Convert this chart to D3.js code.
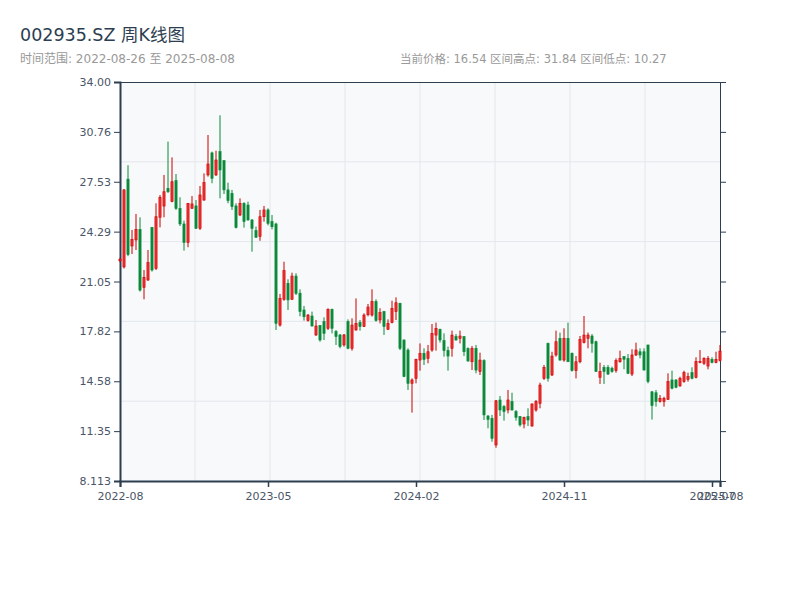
<!DOCTYPE html>
<html>
<head>
<meta charset="utf-8">
<script src="https://cdn.jsdelivr.net/npm/d3@7"></script>
<style>
  body { margin: 0; background: #fff; }
  svg { font-family: "DejaVu Sans", "Noto Sans CJK SC", sans-serif; }
</style>
</head>
<body>
<svg id="chart" width="800" height="600"></svg>
<script>
// weekly bars, last trading day of each week (holiday weeks dropped)
var dates = [
  "2022-08-26","2022-09-02","2022-09-09","2022-09-16","2022-09-23","2022-09-30","2022-10-14","2022-10-21","2022-10-28","2022-11-04",
  "2022-11-11","2022-11-18","2022-11-25","2022-12-02","2022-12-09","2022-12-16","2022-12-23","2022-12-30","2023-01-06","2023-01-13",
  "2023-01-20","2023-02-03","2023-02-10","2023-02-17","2023-02-24","2023-03-03","2023-03-10","2023-03-17","2023-03-24","2023-03-31",
  "2023-04-07","2023-04-14","2023-04-21","2023-04-28","2023-05-05","2023-05-12","2023-05-19","2023-05-26","2023-06-02","2023-06-09",
  "2023-06-16","2023-06-23","2023-06-30","2023-07-07","2023-07-14","2023-07-21","2023-07-28","2023-08-04","2023-08-11","2023-08-18",
  "2023-08-25","2023-09-01","2023-09-08","2023-09-15","2023-09-22","2023-09-28","2023-10-13","2023-10-20","2023-10-27","2023-11-03",
  "2023-11-10","2023-11-17","2023-11-24","2023-12-01","2023-12-08","2023-12-15","2023-12-22","2023-12-29","2024-01-05","2024-01-12",
  "2024-01-19","2024-01-26","2024-02-02","2024-02-08","2024-02-23","2024-03-01","2024-03-08","2024-03-15","2024-03-22","2024-03-29",
  "2024-04-03","2024-04-12","2024-04-19","2024-04-26","2024-04-30","2024-05-10","2024-05-17","2024-05-24","2024-05-31","2024-06-07",
  "2024-06-14","2024-06-21","2024-06-28","2024-07-05","2024-07-12","2024-07-19","2024-07-26","2024-08-02","2024-08-09","2024-08-16",
  "2024-08-23","2024-08-30","2024-09-06","2024-09-13","2024-09-20","2024-09-27","2024-09-30","2024-10-11","2024-10-18","2024-10-25",
  "2024-11-01","2024-11-08","2024-11-15","2024-11-22","2024-11-29","2024-12-06","2024-12-13","2024-12-20","2024-12-27","2025-01-03",
  "2025-01-10","2025-01-17","2025-01-24","2025-01-27","2025-02-07","2025-02-14","2025-02-21","2025-02-28","2025-03-07","2025-03-14",
  "2025-03-21","2025-03-28","2025-04-03","2025-04-11","2025-04-18","2025-04-25","2025-04-30","2025-05-09","2025-05-16","2025-05-23",
  "2025-05-30","2025-06-06","2025-06-13","2025-06-20","2025-06-27","2025-07-04","2025-07-11","2025-07-18","2025-07-25","2025-08-01",
  "2025-08-08"
];

var opens = [
  22.40,22.00,27.70,23.36,23.75,24.44,20.68,21.15,24.57,21.90,
  25.22,25.95,27.10,26.24,27.60,25.80,24.79,23.58,25.80,25.96,
  24.51,26.34,27.97,29.40,27.97,29.48,28.90,27.00,26.78,25.96,
  25.37,26.13,26.02,25.05,24.36,23.97,25.26,25.70,24.94,24.79,
  18.23,19.90,20.94,19.90,21.41,20.30,19.21,18.52,18.82,17.59,
  18.20,18.45,18.02,19.25,17.80,17.59,16.94,18.45,16.72,17.91,
  18.39,18.13,18.90,18.88,19.75,18.56,19.10,17.95,18.39,19.10,
  19.64,17.26,16.61,14.45,14.77,15.96,16.40,16.07,16.61,17.58,
  17.95,17.22,16.57,16.72,17.48,17.37,17.48,16.70,15.85,16.72,
  15.21,15.92,12.33,12.18,10.45,13.37,12.94,12.72,13.26,12.61,
  12.29,11.81,12.29,11.68,12.72,13.15,14.77,17.04,14.99,16.29,
  17.37,15.96,17.37,16.40,15.27,15.85,17.09,17.37,17.52,17.15,
  14.84,15.49,15.49,15.43,15.27,15.85,16.18,16.07,15.05,16.29,
  16.50,16.50,16.94,13.90,13.84,13.26,13.26,13.41,14.67,14.67,
  14.28,14.56,14.71,15.14,14.84,15.79,15.75,15.57,16.01,15.79,
  15.92
];
var highs = [
  22.60,27.05,28.60,24.40,25.44,25.22,21.80,23.10,24.60,26.13,
  26.67,27.97,30.13,29.11,28.03,26.52,25.00,26.15,26.60,26.34,
  27.25,28.07,30.56,29.48,29.54,31.84,28.90,27.47,27.00,26.13,
  26.45,26.20,26.24,25.10,24.62,25.70,25.96,25.80,25.37,24.87,
  20.25,22.34,21.20,21.63,21.59,20.55,19.47,18.95,19.10,18.56,
  18.23,18.73,19.32,19.30,17.91,17.65,17.65,18.60,18.67,19.96,
  18.56,18.99,19.60,20.55,19.90,19.32,19.15,18.60,19.81,20.03,
  19.68,17.30,16.72,14.77,16.05,17.04,16.72,16.94,18.30,18.39,
  18.00,17.69,16.83,17.87,17.65,17.87,17.50,16.78,16.87,16.94,
  16.44,16.01,12.40,12.40,13.37,13.63,13.04,14.02,13.84,12.72,
  12.33,12.29,12.83,13.15,13.37,14.49,15.64,17.09,16.50,17.87,
  17.74,18.02,18.39,16.45,16.22,17.52,18.82,17.74,17.65,17.22,
  15.79,15.64,15.64,15.53,16.07,16.57,16.22,16.35,16.66,17.09,
  16.72,16.72,16.94,13.95,14.02,13.69,13.58,15.10,15.27,14.71,
  14.88,15.27,15.14,15.49,16.14,16.61,16.14,16.22,16.14,16.50,
  16.94
];
var lows = [
  22.30,21.90,22.70,22.84,23.10,20.40,19.90,21.10,21.70,21.80,
  24.57,25.22,26.80,26.20,25.70,24.66,23.06,23.28,25.80,24.46,
  24.40,26.30,27.86,27.43,27.90,26.45,26.73,26.13,25.70,24.50,
  25.30,24.55,25.00,22.99,23.92,23.70,24.94,24.70,24.44,17.91,
  18.13,19.81,19.21,19.86,20.18,18.80,18.52,18.45,18.13,17.52,
  17.15,17.26,17.91,17.69,16.94,16.72,16.83,16.66,16.57,17.87,
  17.87,18.10,18.80,18.78,18.45,18.34,17.59,17.91,18.34,18.56,
  16.61,14.85,14.02,12.55,14.45,15.27,15.64,15.75,16.50,16.57,
  17.09,16.18,15.27,16.18,17.22,17.04,16.22,15.85,15.31,15.10,
  14.99,12.07,11.53,10.66,10.27,12.33,12.03,12.50,12.68,12.03,
  11.64,11.53,11.68,11.64,12.61,12.83,14.67,14.56,14.92,16.18,
  15.92,15.85,15.85,15.21,14.77,15.75,17.04,16.72,16.44,15.20,
  14.41,14.41,14.99,15.14,15.14,15.79,15.36,15.05,14.92,16.22,
  16.07,15.30,14.45,12.10,12.94,13.20,12.94,13.37,14.06,14.13,
  14.23,14.49,14.56,14.71,14.77,15.75,15.64,15.36,15.75,15.75,
  15.86
];
var closes = [
  22.50,27.00,22.80,23.79,24.44,20.50,21.33,22.28,21.80,25.26,
  26.52,26.88,26.88,27.53,25.80,24.79,23.58,26.13,26.09,24.51,
  26.67,27.47,28.68,27.75,28.94,28.29,27.00,26.30,25.91,24.55,
  26.13,24.94,25.05,24.50,23.92,25.26,25.70,24.83,24.61,18.34,
  19.96,21.76,19.86,21.41,20.29,19.10,18.77,18.88,18.17,18.17,
  17.26,17.69,19.25,18.02,17.48,16.83,17.59,16.72,18.23,18.34,
  18.13,18.88,19.40,19.75,18.52,19.04,18.13,18.34,19.32,19.68,
  16.72,14.88,14.45,14.67,16.00,16.40,16.00,16.50,17.69,18.02,
  17.26,16.57,16.22,17.58,17.26,17.52,16.50,15.90,16.72,15.31,
  15.96,12.40,12.10,10.88,13.32,12.72,12.61,13.37,12.72,12.24,
  11.75,12.24,12.07,13.11,13.26,14.34,15.49,14.77,16.22,17.15,
  15.96,17.37,15.85,15.27,15.85,17.30,17.58,17.58,17.04,15.21,
  15.21,15.21,15.05,15.21,15.92,16.07,16.01,15.10,16.29,16.61,
  16.29,15.31,14.56,13.00,13.26,13.48,13.48,14.56,14.13,14.19,
  14.77,15.14,14.88,14.77,15.86,15.86,16.07,16.07,15.79,16.01,
  16.54
];

var yMin = 8.113, yMax = 34.00;
var yTickLabels = ["8.113", "11.35", "14.58", "17.82", "21.05", "24.29", "27.53", "30.76", "34.00"];

var svg = d3.select("#chart");
var plotLeft = 120, plotRight = 720, plotTop = 82, plotBottom = 481;

var x = d3.scalePoint().domain(dates).range([plotLeft, plotRight]);
var y = d3.scaleLinear().domain([yMin, yMax]).range([plotBottom, plotTop]);

// header
svg.append("text").attr("x", 20).attr("y", 41)
  .attr("font-size", 17.5).attr("fill", "#2c3e50")
  .text("002935.SZ 周K线图");
svg.append("text").attr("x", 20).attr("y", 63)
  .attr("font-size", 12).attr("fill", "#999")
  .text("时间范围: " + dates[0] + " 至 " + dates[dates.length - 1]);
svg.append("text").attr("x", 400).attr("y", 63)
  .attr("font-size", 11.5).attr("fill", "#999")
  .text("当前价格: 16.54 区间高点: 31.84 区间低点: 10.27");

// plot background + grid (8 x 5 even grid)
svg.append("rect").attr("x", plotLeft).attr("y", plotTop)
  .attr("width", plotRight - plotLeft).attr("height", plotBottom - plotTop)
  .attr("fill", "#f7f9fb");

var grid = svg.append("g").attr("stroke", "#e4e7ec").attr("stroke-width", 1);
d3.range(1, 8).forEach(function(k) {
  var gx = plotLeft + k * (plotRight - plotLeft) / 8;
  grid.append("line").attr("x1", gx).attr("x2", gx).attr("y1", plotTop).attr("y2", plotBottom);
});
d3.range(1, 5).forEach(function(k) {
  var gy = plotTop + k * (plotBottom - plotTop) / 5;
  grid.append("line").attr("x1", plotLeft).attr("x2", plotRight).attr("y1", gy).attr("y2", gy);
});

// axes
var yTicks = d3.range(9).map(function(i) { return yMin + i * (yMax - yMin) / 8; });

var tickIdx = d3.range(0, dates.length, 37);
if (tickIdx[tickIdx.length - 1] !== dates.length - 1) tickIdx.push(dates.length - 1);
var xTicks = tickIdx.map(function(i) { return dates[i]; });

var axisColor = "#2c3e50";

var gyl = svg.append("g").attr("transform", "translate(" + plotLeft + ",0)")
  .call(d3.axisLeft(y).tickValues(yTicks).tickFormat(function(d, i) { return yTickLabels[i]; }));
gyl.select(".domain").attr("stroke", axisColor).attr("stroke-width", 2);

var gyr = svg.append("g").attr("transform", "translate(" + plotRight + ",0)")
  .call(d3.axisRight(y).tickValues(yTicks).tickFormat(""));
gyr.select(".domain").attr("stroke", axisColor);

var gt = svg.append("g").attr("transform", "translate(0," + plotTop + ")")
  .call(d3.axisTop(x).tickValues([]).tickSizeOuter(0));
gt.select(".domain").attr("stroke", axisColor);

var gxb = svg.append("g").attr("transform", "translate(0," + plotBottom + ")")
  .call(d3.axisBottom(x).tickValues(xTicks).tickPadding(5)
    .tickFormat(function(d) { return d.slice(0, 7); }));
gxb.select(".domain").attr("stroke", axisColor).attr("stroke-width", 2);

[gyl, gyr, gxb].forEach(function(g) {
  g.selectAll(".tick line").attr("stroke", axisColor);
  g.selectAll(".tick text").attr("fill", "#4a5568").attr("font-size", 11)
    .attr("font-family", "\"DejaVu Sans\", sans-serif");
});
gxb.selectAll(".tick line").attr("stroke-width", 1.5);

// candles
var upStroke = "#cc0000", upFill = "#f03030", down = "#0a8a3a";
var bw = x.step() * 0.55;

var candles = svg.append("g").selectAll("g")
  .data(dates.map(function(d, i) {
    return { date: d, o: opens[i], h: highs[i], l: lows[i], c: closes[i] };
  }))
  .enter().append("g");

candles.append("line")
  .attr("x1", function(d) { return x(d.date); })
  .attr("x2", function(d) { return x(d.date); })
  .attr("y1", function(d) { return y(d.h); })
  .attr("y2", function(d) { return y(d.l); })
  .attr("stroke", function(d) { return d.c >= d.o ? upStroke : down; })
  .attr("stroke-width", 1);

candles.append("rect")
  .attr("x", function(d) { return x(d.date) - bw / 2; })
  .attr("width", bw)
  .attr("y", function(d) { return y(Math.max(d.o, d.c)); })
  .attr("height", function(d) { return Math.max(1, Math.abs(y(d.o) - y(d.c))); })
  .attr("fill", function(d) { return d.c >= d.o ? upFill : down; })
  .attr("stroke", function(d) { return d.c >= d.o ? upStroke : down; })
  .attr("stroke-width", 0.6);
</script>
</body>
</html>
